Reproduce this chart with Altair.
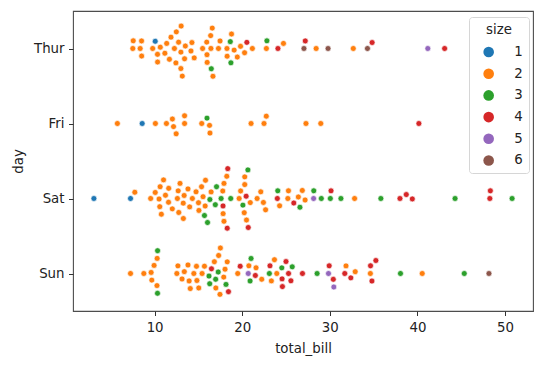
import math
import altair as alt
import pandas as pd

# ---- data (tips: total_bill and party size per day, in original order) ----
day_order = ["Thur", "Fri", "Sat", "Sun"]
size_levels = [1, 2, 3, 4, 5, 6]
size_colors = ["#1f77b4", "#ff7f0e", "#2ca02c", "#d62728", "#9467bd", "#8c564b"]
x_ticks = [10, 20, 30, 40, 50]

thur_bill = [27.2, 22.76, 17.29, 19.44, 16.66, 10.07, 32.68, 15.98, 34.83, 13.03, 18.28, 24.71, 21.16,
             10.65, 12.43, 24.08, 11.69, 13.42, 14.26, 15.95, 12.48, 29.8, 8.52, 14.52, 11.38, 22.82,
             19.08, 20.27, 11.17, 12.26, 18.26, 8.51, 10.33, 14.15, 16.0, 13.16, 17.47, 34.3, 41.19,
             27.05, 16.43, 8.35, 18.64, 11.87, 9.78, 7.51,
             19.81, 28.44, 15.48, 16.58, 7.56, 10.34, 43.11, 13.0, 13.51, 18.71, 12.74, 13.0, 16.4,
             20.53, 16.47, 18.78]
thur_size = [4, 2, 2, 2, 2, 1, 2, 2, 4, 2, 2, 2, 2,
             2, 2, 4, 2, 2, 2, 2, 2, 6, 2, 2, 2, 3,
             2, 2, 2, 2, 2, 2, 2, 2, 2, 2, 2, 6, 5,
             6, 2, 2, 3, 2, 2, 2,
             2, 2, 2, 2, 2, 2, 4, 2, 2, 3, 2, 2, 2,
             4, 3, 2]

fri_bill = [28.97, 22.49, 5.75, 16.32, 22.75, 40.17, 27.28, 12.03, 21.01, 12.46, 11.35, 15.38,
            12.16, 13.42, 8.58, 15.98, 13.42, 16.27, 10.09]
fri_size = [2, 2, 2, 2, 2, 4, 2, 2, 2, 2, 2, 2,
            2, 2, 1, 3, 2, 2, 2]

sat_bill = [20.65, 17.92, 20.29, 15.77, 39.42, 19.82, 17.81, 13.37, 12.69, 21.7, 19.65, 9.55, 18.35,
            15.06, 20.69, 17.78, 24.06, 16.31, 16.93, 18.69, 31.27, 16.04,
            38.01, 26.41, 11.24, 48.27, 20.29, 13.81, 11.02, 18.29, 17.59, 20.08, 16.45, 3.07, 20.23,
            15.01, 12.02, 17.07, 26.86, 25.28, 14.73, 10.51, 17.92,
            44.3, 22.42, 20.92, 15.36, 20.49, 25.21, 18.24, 14.31, 14.0, 7.25,
            10.59, 10.63, 50.81, 15.81,
            26.59, 38.73, 24.27, 12.76, 30.06, 25.89, 48.33, 13.27, 28.17, 12.9, 28.15, 11.59, 7.74, 30.14,
            20.45, 13.28, 22.12, 24.01, 15.69, 11.61, 10.77, 15.53, 10.07, 12.6, 32.83, 35.83, 29.03,
            27.18, 22.67, 17.82]
sat_size = [3, 2, 2, 2, 4, 2, 4, 2, 2, 2, 2, 2, 4,
            2, 4, 2, 3, 3, 3, 3, 3, 3,
            4, 2, 2, 4, 2, 2, 2, 4, 3, 3, 2, 1, 2,
            2, 2, 3, 2, 2, 2, 2, 2,
            3, 2, 2, 2, 2, 2, 2, 2, 2, 1,
            2, 2, 3, 2,
            3, 4, 2, 2, 3, 4, 4, 2, 3, 2, 5, 2, 2, 4,
            4, 2, 2, 4, 3, 2, 2, 2, 2, 2, 2, 3, 3,
            2, 2, 2]

sun_bill = [16.99, 10.34, 21.01, 23.68, 24.59, 25.29, 8.77, 26.88, 15.04, 14.78, 10.27, 35.26, 15.42,
            18.43, 14.83, 21.58, 10.33, 16.29, 16.97,
            17.46, 13.94, 9.68, 30.4, 18.29, 22.23, 32.4, 28.55, 18.04, 12.54, 10.29, 34.81, 9.94,
            25.56, 19.49,
            38.07, 23.95, 25.71, 17.31, 29.93,
            14.07, 13.13, 17.26, 24.55, 19.77, 29.85, 48.17, 25.0, 13.39, 16.49, 21.5, 12.66, 16.21,
            13.81, 17.51, 24.52, 20.76, 31.71,
            7.25, 31.85, 16.82, 32.9, 17.89, 14.48, 9.6, 34.63, 34.65, 23.33, 45.35, 23.17, 40.55,
            20.69, 20.9, 30.46, 18.15, 23.1, 15.69]
sun_size = [2, 3, 3, 2, 4, 4, 2, 4, 2, 2, 2, 4, 2,
            4, 2, 2, 3, 3, 3,
            2, 2, 2, 4, 2, 2, 4, 3, 2, 2, 2, 4, 2,
            4, 2,
            3, 2, 3, 2, 4,
            2, 2, 3, 4, 4, 5, 6, 4, 2, 4, 4, 2, 3,
            2, 2, 3, 2, 4,
            2, 2, 2, 2, 2, 2, 2, 2, 4, 2, 3, 4, 2,
            5, 3, 5, 3, 3, 2]

# ---- layout constants ----
W, H = 460, 300
X_DOMAIN = [0.683, 53.197]
PX_PER_UNIT = W / (X_DOMAIN[1] - X_DOMAIN[0])
BAND_PX = H / 4.0
R = 3.67  # marker radius in px (incl. edge) used for swarm packing


def swarm_offsets(values):
    """Seaborn-like beeswarm; returns pixel offsets (negative = up)."""
    pos = [(v - X_DOMAIN[0]) * PX_PER_UNIT for v in values]
    order = sorted(range(len(values)), key=lambda i: pos[i])
    placed = []
    offs = [0.0] * len(values)
    for i in order:
        y = pos[i]
        neighbors = []
        for oj, yj in reversed(placed):
            if y - yj < 2 * R:
                neighbors.append((oj, yj))
            else:
                break
        cands = [0.0]
        left_first = True
        for oj, yj in neighbors:
            dy = y - yj
            dx = math.sqrt(max(4 * R * R - dy * dy, 0.0)) * 1.05
            cl, cr = oj - dx, oj + dx
            cands += [cl, cr] if left_first else [cr, cl]
            left_first = not left_first
        cands.sort(key=abs)
        chosen = cands[0]
        for c in cands:
            if all((c - oj) ** 2 + (y - yj) ** 2 >= 4 * R * R for oj, yj in neighbors):
                chosen = c
                break
        half = 0.4 * BAND_PX
        chosen = max(-half, min(half, chosen))
        placed.append((chosen, y))
        offs[i] = chosen
    return offs


rows = []
for idx, (name, bills, sizes) in enumerate([("Thur", thur_bill, thur_size), ("Fri", fri_bill, fri_size),
                                            ("Sat", sat_bill, sat_size), ("Sun", sun_bill, sun_size)]):
    offs = swarm_offsets(bills)
    for b, s, o in zip(bills, sizes, offs):
        rows.append({"total_bill": b, "day": name, "size": s, "ypos": idx + o / BAND_PX})
df = pd.DataFrame(rows)

FONT = "DejaVu Sans"
FS = 13.33
TXT = "#222222"

label_expr = "['Thur','Fri','Sat','Sun'][datum.value]"

chart = alt.Chart(df).mark_circle(size=35, opacity=1, stroke="white", strokeWidth=0.67).encode(
    x=alt.X("total_bill:Q",
            scale=alt.Scale(domain=X_DOMAIN, nice=False, zero=False),
            axis=alt.Axis(values=x_ticks, format="d", title="total_bill", grid=False, domain=False,
                          tickSize=4.5, tickColor="#333333", labelPadding=5,
                          titleY=30, titleBaseline="top")),
    y=alt.Y("ypos:Q",
            scale=alt.Scale(domain=[-0.5, 3.5], nice=False, zero=False, reverse=True),
            axis=alt.Axis(values=[0, 1, 2, 3], labelExpr=label_expr, title="day", grid=False,
                          domain=False, tickSize=4.5, tickColor="#333333", labelPadding=4.5,
                          titleX=-48, titleY=150, titleBaseline="bottom", titleAlign="center")),
    color=alt.Color("size:N",
                    scale=alt.Scale(domain=size_levels, range=size_colors),
                    legend=alt.Legend(title="size", orient="none", legendX=396, legendY=6,
                                      padding=6, symbolOffset=7, labelOffset=19, rowPadding=7.7,
                                      titlePadding=9, titleAnchor="middle", titleAlign="center",
                                      symbolType="circle", symbolSize=113, symbolStrokeWidth=0,
                                      symbolOpacity=1, fillColor="rgba(255,255,255,0.8)",
                                      strokeColor="#d6d6d6", cornerRadius=3)),
).properties(
    width=W, height=H,
    padding={"left": 65, "top": 3, "right": 5, "bottom": 48},
    autosize=alt.AutoSizeParams(type="none"),
).configure_view(
    stroke="#4d4d4d", strokeWidth=1.1
).configure_axis(
    labelFont=FONT, titleFont=FONT, labelFontSize=FS, titleFontSize=FS,
    labelColor=TXT, titleColor=TXT, titleFontWeight="normal"
).configure_legend(
    labelFont=FONT, titleFont=FONT, labelFontSize=FS, titleFontSize=FS,
    labelColor=TXT, titleColor=TXT, titleFontWeight="normal"
)

chart.save("out.html", embed_options={"renderer": "svg", "actions": False})
